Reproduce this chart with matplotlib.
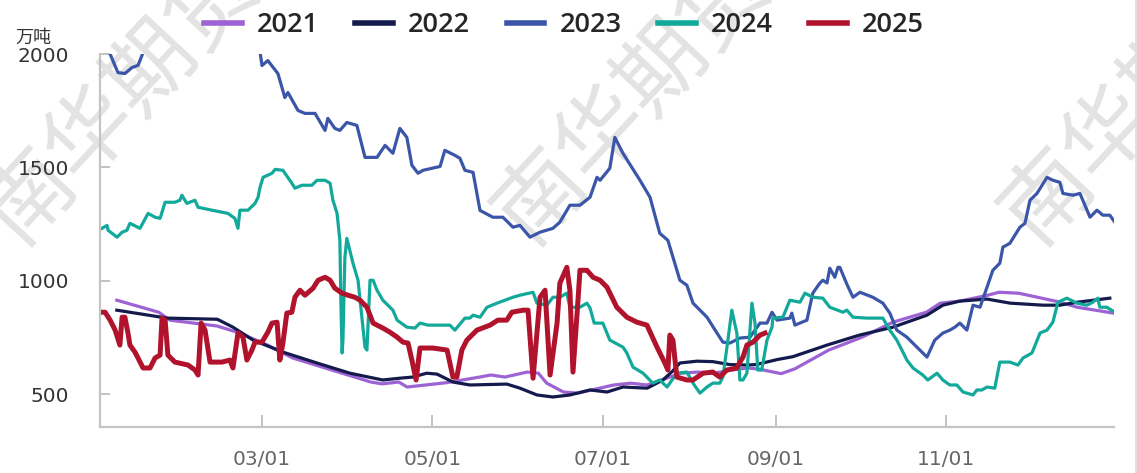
import matplotlib
matplotlib.use('Agg')
import matplotlib.pyplot as plt
import numpy as np
import pandas as pd
from matplotlib.lines import Line2D

# ---------------- data (day of year offset from Jan 1, value in 万吨) ----------------
d2021 = [7, 22, 26, 43, 51, 61, 70, 84, 98, 102, 108, 111, 125, 137, 141, 146, 154, 158, 161, 167,
         172, 185, 191, 197, 204, 209, 215, 221, 227, 233, 237, 245, 250, 262, 274, 285, 291, 297,
         302, 309, 319, 323, 330, 345, 351, 364]
v2021 = [914, 861, 826, 800, 769, 716, 659, 606, 553, 545, 553, 531, 550, 575, 584, 575, 597, 592, 548, 509,
         504, 540, 548, 540, 570, 592, 597, 592, 606, 615, 610, 590, 612, 694, 751, 817, 839, 861,
         901, 910, 936, 949, 945, 905, 883, 857]

d2022 = [7, 25, 43, 48.6, 55.8, 66.5, 78.7, 90.5, 102.3, 108.4, 113, 118, 121.7, 127.4, 133.5, 146.7,
         151.4, 157.5, 163.2, 169.3, 176.5, 182.6, 188.3, 197, 202.6, 206, 208.7, 214.8, 220.5, 226.6,
         232.7, 236, 238.4, 243.5, 249.2, 261.4, 273, 285, 297.2, 302.9, 309, 318.7, 327, 338.8, 344.8,
         351, 362.7]
v2022 = [870, 835, 830, 795, 738, 685, 637, 592, 562, 570, 575, 592, 588, 553, 540, 544,
         526, 496, 487, 496, 518, 509, 531, 526, 562, 600, 637, 645, 643, 630,
         628, 630, 637, 652, 665, 716, 760, 795, 848, 892, 910, 919, 901, 892, 892,
         905, 923]

d2023 = [1, 4.6, 7.4, 9.9, 11, 12.4, 14.6, 16, 18, 25, 40, 55, 58.3, 59, 61.1, 64.7, 67.2, 68.3, 71.9,
         74.4, 78, 81.6, 82.6, 85.1, 86.9, 89.4, 93, 95.9, 100.2, 103.1, 105.9, 108.4, 110.9, 112.7,
         114.9, 116.7, 122.8, 124.5, 128.1, 129.9, 131.7, 134.6, 137.1, 141.7, 145.3, 148.9, 151.4, 155,
         158.6, 163.2, 165.7, 169.3, 172.9, 176.5, 179, 180.1, 183.6, 185.4, 188.3, 194.4, 198, 201.5,
         204.4, 208.7, 211.2, 213.4, 218.4, 222, 224.1, 226.6, 230.2, 233.8, 237.4, 239.9, 241.7, 243.5,
         248.1, 248.8, 249.9, 254.2, 256.3, 258.8, 259.9, 261.4, 262.4, 264.2, 265.3, 266, 268.5, 270.7,
         273.2, 277.8, 281.4, 283.9, 286.4, 290, 293.6, 297.2, 300, 302.9, 305.4, 307.2, 309, 311.5,
         313.7, 316.2, 318.7, 320.8, 323.3, 324.4, 326.9, 330.5, 332.3, 334.1, 336.6, 340.2, 342.3,
         344.8, 345.9, 349.5, 352, 355.6, 358.1, 360.2, 362.7, 364.5]
v2023 = [2100, 2000, 1918, 1914, 1925, 1940, 1950, 1993, 2080, 2200, 2250, 2150, 2010, 1949, 1971, 1914, 1808, 1830, 1751,
         1738, 1738, 1663, 1716, 1672, 1663, 1698, 1685, 1544, 1544, 1597, 1562, 1672, 1632, 1509,
         1474, 1487, 1504, 1575, 1553, 1540, 1487, 1478, 1310, 1280, 1280, 1236, 1244, 1192,
         1214, 1231, 1258, 1333, 1333, 1368, 1456, 1443, 1496, 1632, 1562, 1443, 1368, 1209,
         1178, 1002, 980, 901, 839, 769, 729, 725, 747, 751, 813, 813, 861, 826,
         835, 857, 804, 826, 945, 989, 1002, 990, 1055, 1015, 1059, 1059, 985, 927,
         949, 927, 901, 857, 782, 751, 707, 663, 738, 769, 782, 795, 813, 782,
         892, 883, 971, 1046, 1077, 1148, 1165, 1236, 1253, 1355, 1385, 1456, 1443,
         1434, 1385, 1377, 1385, 1280, 1311, 1289, 1289, 1258]

d2024 = [1.7, 3.5, 3.9, 7.1, 8.9, 10.6, 11.7, 15.3, 18.2, 20.7, 22.5, 24.3, 27.8, 29.6, 30.3, 32.1, 35,
         36.1, 41.1, 46.8, 49.3, 50.4, 51.1, 54, 56.5, 57.6, 58.3, 59.4, 62.6, 63.7, 66.5, 69.7, 70.8,
         73.3, 76.9, 78.7, 81.6, 83.4, 84.4, 85.9, 86.9, 87.3, 87.7, 88, 88.7, 89.4, 91.6, 93.4, 95.9,
         96.6, 97.7, 98.8, 100.2, 102.3, 105.9, 107.4, 110.9, 113.8, 115.6, 118.5, 126.3, 128.1, 131.7,
         133.5, 134.6, 137.1, 139.6, 143.2, 148.9, 151.4, 156.1, 157.5, 161.1, 163.2, 165.7, 168.2,
         169.3, 172.9, 175.4, 176.5, 178, 181.1, 183.6, 188.3, 189.7, 191.9, 195.5, 199, 201.5, 204.1,
         207.6, 211.2, 213.4, 215.9, 218.4, 220.5, 223, 224.1, 225.9, 227.3, 229.1, 230.2, 231.3, 232.7,
         234.5, 235.6, 236.6, 238, 239.9, 241.7, 242, 245.6, 248.1, 251.7, 253.5, 256.3, 259.9, 262.4,
         267.1, 268.5, 270.7, 275.7, 281.4, 283.9, 286.4, 288.6, 290, 292.2, 295.7, 297.5, 300.8, 302.9,
         305.4, 307.9, 310.1, 313.7, 315.1, 316.9, 318.7, 321.5, 323.3, 326.9, 329.8, 331.6, 334.8,
         337.7, 340.2, 342.3, 344.1, 347.3, 350.9, 354.5, 356.6, 358.4, 359.1, 361.6, 364.5]
v2024 = [1231, 1244, 1222, 1192, 1214, 1222, 1253, 1231, 1297, 1280, 1275, 1346, 1346, 1355, 1377, 1341, 1355,
         1324, 1311, 1297, 1275, 1231, 1311, 1311, 1341, 1368, 1412, 1456, 1474, 1491, 1487, 1430, 1408,
         1421, 1421, 1443, 1443, 1430, 1355, 1297, 1178, 883, 681, 738, 1103, 1187, 1077, 1002, 707,
         694, 1002, 1002, 958, 914, 870, 826, 795, 791, 813, 804, 804, 782, 835,
         835, 848, 839, 883, 901, 927, 936, 949, 901, 892, 927, 927, 945,
         883, 883, 901, 880, 813, 813, 738, 707, 681, 619, 592, 548, 562, 531,
         592, 597, 548, 504, 531, 548, 548, 575, 738, 870, 769, 562, 562, 592,
         901, 813, 606, 606, 738, 795, 835, 839, 914, 905, 945, 927, 923, 883,
         861, 870, 839, 835, 835, 782, 738, 685, 650, 615, 584, 562, 592, 562,
         540, 540, 509, 496, 518, 518, 531, 526, 641, 641, 628, 659, 681,
         769, 782, 817, 905, 923, 901, 892, 905, 923, 883, 883, 861]

d2025 = [1.7, 2.8, 4.6, 6.4, 8.1, 8.9, 9.9, 11, 11.7, 13.5, 14.6, 16.4, 18.9, 20.7, 22.5, 23.2, 24.3, 25.3,
         27.8, 32.5, 35, 36.1, 37.2, 38.6, 40.4, 44.7, 47.5, 48.6, 50.4, 52.2, 53.6, 55.4, 56.5, 59, 61.1,
         62.6, 64.4, 65.4, 66.5, 67.9, 69.7, 70.8, 72.6, 74.4, 77.3, 79.1, 81.6, 83.4, 85.1, 87.7, 89.8,
         92.3, 94.1, 96.6, 98.8, 102.3, 104.8, 107.4, 109.5, 111.3, 112.7, 114.2, 115.6, 120.2, 125.3,
         127.4, 128.8, 130.6, 132.4, 136, 140.7, 143.5, 146.7, 148.5, 152.5, 154.3, 156.1, 158.6, 160.4,
         162.2, 164.7, 165.7, 168.2, 169.3, 170.4, 172.2, 172.9, 175.4, 177.6, 180.1, 182.6, 186.1,
         189.7, 193.3, 196.9, 200.5, 203.3, 204.4, 205.1, 206.2, 207.6, 211.2, 213.4, 217, 220.5, 223,
         225.5, 229.1, 230.2, 231.3, 232.7, 234.9, 237.4, 239.2]
v2025 = [861, 861, 826, 782, 716, 839, 839, 769, 716, 685, 659, 615, 615, 659, 672, 835, 826, 672,
         641, 628, 606, 584, 813, 782, 641, 641, 650, 615, 769, 751, 650, 694, 729, 729, 773,
         813, 817, 650, 725, 857, 861, 927, 958, 936, 967, 1002, 1015, 1002, 967, 945, 936,
         927, 914, 883, 813, 791, 773, 751, 729, 725, 650, 562, 703, 703, 694,
         575, 575, 694, 738, 782, 804, 826, 826, 861, 870, 870, 570, 927, 958,
         584, 813, 989, 1059, 958, 597, 914, 1046, 1046, 1015, 1002, 971, 883,
         839, 817, 804, 707, 637, 606, 760, 738, 575, 562, 562, 592, 597, 575,
         606, 615, 641, 663, 716, 729, 760, 769]

series_names = ['2021', '2022', '2023', '2024', '2025']
series_days = [d2021, d2022, d2023, d2024, d2025]
series_vals = [v2021, v2022, v2023, v2024, v2025]
series_colors = ['#9d62d4', '#141a4c', '#3b56a9', '#12a99b', '#b0132b']
series_widths = [2.3, 2.3, 2.3, 2.3, 3.6]

tick_dates = ['2025-03-01', '2025-05-01', '2025-07-01', '2025-09-01', '2025-11-01']
tick_labels = ['03/01', '05/01', '07/01', '09/01', '11/01']
y_ticks = [500, 1000, 1500, 2000]
unit_label = '万吨'
watermark = '南华期货'

# ---------------- drawing ----------------
base = pd.Timestamp('2025-01-01')

def to_dates(days):
    return base + pd.to_timedelta(np.asarray(days, dtype=float), unit='D')

fig = plt.figure(figsize=(11.37, 4.73), dpi=100)
fig.patch.set_facecolor('white')

cjk = ['Noto Sans CJK SC', 'DejaVu Sans']

# watermark behind the axes (partly off the canvas, as in the original)
for cx, cy in [(122, 100), (633, 100), (1140, 100)]:
    fig.text(cx / 1137, 1 - cy / 473, watermark, fontsize=64, color='#e3e3e3',
             rotation=47, ha='center', va='center', family=cjk, zorder=-5)

ax = fig.add_axes([100 / 1137, (473 - 426.7) / 473, (1114 - 100) / 1137, (426.7 - 54) / 473])
ax.patch.set_alpha(0)

for name, dd, vv, c, lw in zip(series_names, series_days, series_vals, series_colors, series_widths):
    ax.plot(to_dates(dd), vv, color=c, lw=lw, label=name, solid_joinstyle='round')

ax.set_xlim(base + pd.Timedelta(days=0.98), base + pd.Timedelta(days=364.2))
ax.set_ylim(356, 2000)

ax.set_xticks(pd.to_datetime(tick_dates))
ax.set_xticklabels(tick_labels)
ax.set_yticks(y_ticks)
ax.set_yticklabels([str(t) for t in y_ticks])

for s in ['top', 'right']:
    ax.spines[s].set_visible(False)
for s in ['left', 'bottom']:
    ax.spines[s].set_color('#c4c4c4')
    ax.spines[s].set_linewidth(1.6)

ax.tick_params(axis='x', direction='in', length=8.5, width=1.2, color='#b8b8b8',
               labelsize=14.5, labelcolor='#666666', pad=17)
ax.tick_params(axis='y', direction='in', length=7, width=1.2, color='#b8b8b8',
               labelsize=14.5, labelcolor='#333333', pad=22)

fig.text(33 / 1137, 1 - 38 / 473, unit_label, fontsize=13, color='#333333',
         ha='center', va='center', family=cjk)

leg = fig.legend(loc='center', bbox_to_anchor=(564 / 1137, 1 - 25 / 473), ncol=5,
                 frameon=False, handlelength=1.4, handletextpad=0.55, columnspacing=1.35,
                 prop={'family': 'Open Sans', 'size': 19.5, 'weight': 'semibold'})
for h in leg.get_lines():
    h.set_linewidth(4)
for t in leg.get_texts():
    t.set_color('#262626')

# right frame edge
fig.add_artist(Line2D([1135.5 / 1137, 1135.5 / 1137], [0, 1], transform=fig.transFigure,
                      color='#dddddd', lw=1.2))

fig.savefig('out.png', dpi=100, facecolor='white')
